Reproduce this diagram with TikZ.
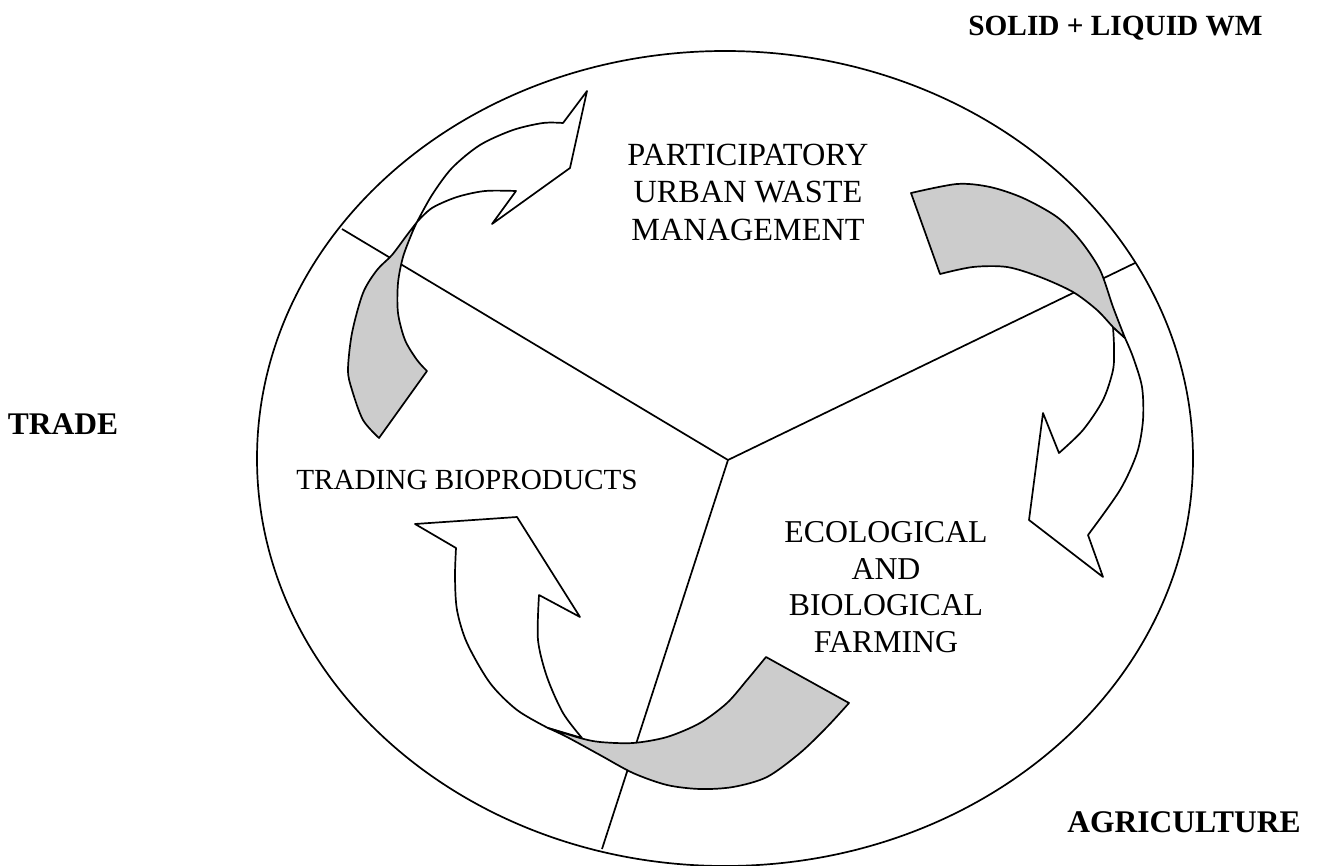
\documentclass[tikz,border=0pt]{standalone}
\usepackage{fontspec}
\setmainfont{Liberation Serif}
\begin{document}
\begin{tikzpicture}[x=1pt,y=-1pt,
  outline/.style={line width=1.7pt, line join=round},
  band/.style={outline, fill=black!20},
  headshape/.style={outline, fill=white},
  lbl/.style={inner sep=0pt, font=\fontsize{32.3}{37.5}\selectfont, align=center},
  side/.style={inner sep=0pt, font=\fontsize{31.5}{36}\selectfont\bfseries, anchor=base}]
\useasboundingbox (0,0) rectangle (1322,866);
% circle and sectors
\coordinate (O) at (728,460);
\coordinate (eUL) at (342,229);
\coordinate (eR) at (1135,263);
\coordinate (eB) at (602,849);
\draw[outline] (725,458.5) ellipse [x radius=468, y radius=407.5];
\draw[outline] (O) -- (eUL);
\draw[outline] (O) -- (eR);
\draw[outline] (O) -- (eB);
% arrow 1 (upper left)
\draw[headshape] (417,222) -- plot[smooth] coordinates {(417,222) (432,195) (452,168) (480,145) (513,130) (543,123) (563,123)}
  -- (587,91) -- (570,168) -- (492,224)
  -- plot[smooth] coordinates {(516,191) (485,191) (457,197) (432,208) (417,222)} -- cycle;
\draw[band] plot[smooth] coordinates {(379,438) (363,420) (352,390) (348,370) (352,333) (363,293) (377,270) (392,255) (407,235) (417,222)}
  -- plot[smooth] coordinates {(417,222) (412,233) (403,257) (398,283) (398,313) (405,340) (417,360) (427,371)} -- cycle;
% arrow 2 (right)
\draw[headshape] (1113,327) -- plot[smooth] coordinates {(1113,327) (1114,347) (1113,370) (1103,400) (1083,430) (1059,453)}
  -- (1043,413) -- (1029,520) -- (1103,577)
  -- plot[smooth] coordinates {(1088,535) (1120,490) (1137,453) (1143,420) (1142,387) (1133,357) (1125,338)} -- cycle;
\draw[band] plot[smooth] coordinates {(911,193) (957,184) (990,187) (1023,198) (1057,217) (1080,240) (1100,270) (1113,307) (1125,338)}
  -- plot[smooth] coordinates {(1125,338) (1113,327) (1097,310) (1073,292) (1040,277) (1007,267) (973,267) (940,274)} -- cycle;
% arrow 3 (bottom)
\draw[headshape] plot[smooth] coordinates {(548,728) (517,710) (490,683) (467,643) (457,610) (455,577) (456,548)}
  -- (415,524) -- (517,517) -- (580,617)
  -- plot[smooth] coordinates {(539,595) (538,640) (547,677) (563,713) (582,738)} -- cycle;
\draw[band] plot[smooth] coordinates {(548,728) (580,738) (600,742) (633,743) (667,737) (700,723) (727,703) (747,680) (766,657)}
  -- plot[smooth] coordinates {(849,703) (827,727) (800,753) (767,777) (733,787) (700,789) (667,785) (633,773) (600,755) (567,737) (548,728)} -- cycle;
% texts
\node[lbl] (puwm) at (748,192) {PARTICIPATORY\\URBAN WASTE\\MANAGEMENT};
\node[lbl, anchor=base, font=\fontsize{29.2}{34}\selectfont] (tb) at (467,489) {TRADING BIOPRODUCTS};
\node[lbl, font=\fontsize{31.8}{36.5}\selectfont] (ebf) at (886,587) {ECOLOGICAL\\AND\\BIOLOGICAL\\FARMING};
\node[side, font=\fontsize{29.3}{34}\selectfont\bfseries] (slwm) at (1115.5,36) {SOLID + LIQUID WM};
\node[side] (trade) at (63,434) {TRADE};
\node[side] (agri) at (1184,832) {AGRICULTURE};
\end{tikzpicture}
\end{document}
